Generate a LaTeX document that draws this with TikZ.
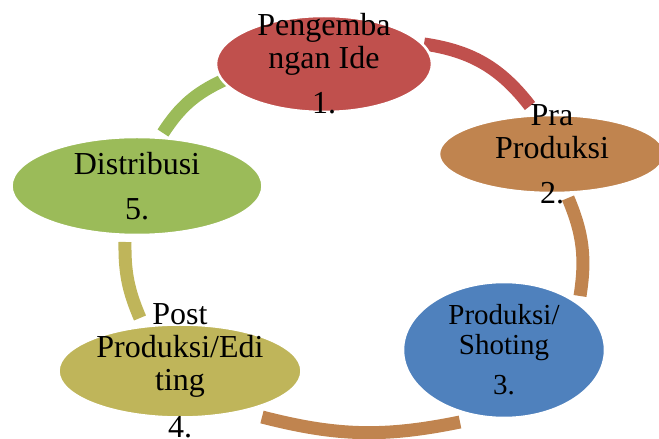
\documentclass[tikz,border=0pt]{standalone}
\usepackage{fontspec}
\setmainfont{Liberation Serif}
\usetikzlibrary{shapes.geometric}

\definecolor{stagered}{HTML}{C0504D}
\definecolor{stagebrown}{HTML}{C0844F}
\definecolor{stageblue}{HTML}{4F81BD}
\definecolor{stageolive}{HTML}{BFB55A}
\definecolor{stagegreen}{HTML}{9BBB59}

\begin{document}
\begin{tikzpicture}[
		x=1pt, y=1pt,
		% Cycle stage: filled ellipse with a white rim, text sits in a centred label
		stage/.style={
				ellipse, draw=white, line width=2.5pt, fill=#1, inner sep=0pt
			},
		stagetext/.style={font=\fontsize{32}{33}\selectfont, align=center, text=black},
		% Thick coloured band between two stages
		band/.style={draw=#1, line width=13pt}
	]

	\useasboundingbox (0,0) rectangle (659,439);

	% ==========================================
	% 1. BAND END POINTS
	% ==========================================
	\coordinate (redA) at (424,395);
	\coordinate (redB) at (530,333);
	\coordinate (brownA) at (568,241);
	\coordinate (brownB) at (580,143);
	\coordinate (bottomA) at (460,17);
	\coordinate (bottomB) at (262,22);
	\coordinate (oliveA) at (140,121);
	\coordinate (oliveB) at (125,197);
	\coordinate (greenA) at (163,306);
	\coordinate (greenB) at (224,359);

	% ==========================================
	% 2. CYCLE BANDS (drawn first, stages cover their ends)
	% ==========================================
	\draw[band=stagered] (redA) to[bend left=22] (redB);
	\draw[band=stagebrown] (brownA) to[bend left=16] (brownB);
	\draw[band=stagebrown] (bottomA) to[bend left=13] (bottomB);
	\draw[band=stageolive] (oliveA) to[bend left=12] (oliveB);
	\draw[band=stagegreen] (greenA) to[bend left=16] (greenB);

	% ==========================================
	% 3. STAGES
	% ==========================================
	\node[stage=stagered, minimum width=216, minimum height=96,
		label={[stagetext]center:{Pengemba\\ngan Ide\\[12pt]1.}}]
	(ide) at (324,375) {};

	\node[stage=stagebrown, minimum width=226, minimum height=78,
		label={[stagetext]center:{Pra\\Produksi\\[12pt]2.}}]
	(pra) at (552,285) {};

	\node[stage=stageblue, minimum width=202, minimum height=136,
		label={[stagetext, font=\fontsize{29}{30}\selectfont]center:{Produksi/\\Shoting\\[10pt]3.}}]
	(shoting) at (504,89) {};

	\node[stage=stageolive, minimum width=243, minimum height=93,
		label={[stagetext]center:{Post\\Produksi/Edi\\ting\\[14pt]4.}}]
	(editing) at (180,68) {};

	\node[stage=stagegreen, minimum width=251, minimum height=98,
		label={[stagetext]center:{Distribusi\\[12pt]5.}}]
	(distribusi) at (137,253) {};

\end{tikzpicture}
\end{document}
